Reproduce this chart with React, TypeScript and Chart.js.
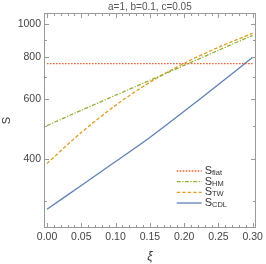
import React, { useEffect, useRef } from "react";
import { Chart, registerables } from "chart.js";
Chart.register(...registerables);

const xi = [0, 0.05, 0.1, 0.15, 0.2, 0.25, 0.3];
const sFlat = [765, 765, 765, 765, 765, 765, 765];
const sHM = [502, 557, 617, 683, 756, 838, 928];
const sTW = [388, 479, 576, 674, 767, 855, 941];
const sCDL = [284, 334, 393, 463, 553, 664, 799];
const yMajor = [400, 600, 800, 1000];
const yMinor = [300, 500, 700, 900];
const xMajor = [0, 0.05, 0.1, 0.15, 0.2, 0.25, 0.3];
const xMinor = [0.01, 0.02, 0.03, 0.04, 0.06, 0.07, 0.08, 0.09, 0.11, 0.12, 0.13, 0.14, 0.16, 0.17, 0.18, 0.19, 0.21, 0.22, 0.23, 0.24, 0.26, 0.27, 0.28, 0.29];
const titleText = "a=1, b=0.1, c=0.05";
const legendItems = [
  { main: "S", sub: "flat" },
  { main: "S", sub: "HM" },
  { main: "S", sub: "TW" },
  { main: "S", sub: "CDL" },
];

const RED = "#EB6235";
const GREEN = "#8FB032";
const ORANGE = "#E19C24";
const BLUE = "#5E81B5";
const FONT = "'Liberation Sans', Arial, sans-serif";

const styles = [
  { color: RED, dash: [1.6, 1.4] },
  { color: GREEN, dash: [4, 1.5, 1.2, 1.5] },
  { color: ORANGE, dash: [3.5, 2] },
  { color: BLUE, dash: [] as number[] },
];

const framePlugin = {
  id: "frame",
  afterDatasetsDraw(chart: any) {
    const { ctx, chartArea: a, scales } = chart;
    const x = scales.x, y = scales.y;
    ctx.save();
    ctx.strokeStyle = "#9a9a9a";
    ctx.lineWidth = 1;
    ctx.strokeRect(Math.round(a.left) + 0.5, Math.round(a.top) + 0.5, Math.round(a.right - a.left) - 1, Math.round(a.bottom - a.top) - 1);
    ctx.beginPath();
    const L = Math.round(a.left) + 0.5, R = Math.round(a.right) - 0.5;
    const T = Math.round(a.top) + 0.5, B = Math.round(a.bottom) - 0.5;
    const yt = (v: number, len: number) => {
      const p = Math.round(y.getPixelForValue(v)) + 0.5;
      ctx.moveTo(L, p); ctx.lineTo(L + len, p);
      ctx.moveTo(R, p); ctx.lineTo(R - len, p);
    };
    const xt = (v: number, len: number) => {
      const p = Math.round(x.getPixelForValue(v)) + 0.5;
      ctx.moveTo(p, B); ctx.lineTo(p, B - len);
      ctx.moveTo(p, T); ctx.lineTo(p, T + len);
    };
    yMajor.forEach((v) => yt(v, 4.5));
    yMinor.forEach((v) => yt(v, 2.5));
    xMajor.forEach((v) => xt(v, 4.5));
    xMinor.forEach((v) => xt(v, 2.5));
    ctx.stroke();

    // title
    ctx.fillStyle = "#555";
    ctx.font = `10px ${FONT}`;
    ctx.textAlign = "center";
    ctx.textBaseline = "middle";
    ctx.fillText(titleText, (a.left + a.right) / 2, 7);

    // legend
    const lx0 = a.right - 79, lx1 = a.right - 54;
    const ty0 = a.top + 158;
    legendItems.forEach((it, i) => {
      const yy = ty0 + i * 10.67;
      ctx.beginPath();
      ctx.strokeStyle = styles[i].color;
      ctx.lineWidth = 1.3;
      ctx.setLineDash(styles[i].dash);
      ctx.moveTo(lx0, yy);
      ctx.lineTo(lx1, yy);
      ctx.stroke();
      ctx.setLineDash([]);
      ctx.fillStyle = "#333";
      ctx.textAlign = "left";
      ctx.textBaseline = "middle";
      ctx.font = `11px ${FONT}`;
      ctx.fillText(it.main, lx1 + 3, yy);
      const w = ctx.measureText(it.main).width;
      ctx.font = `7.5px ${FONT}`;
      ctx.fillText(it.sub, lx1 + 3 + w, yy + 2);
    });
    ctx.restore();
  },
};

export default function App() {
  const ref = useRef<HTMLCanvasElement | null>(null);
  useEffect(() => {
    if (!ref.current) return;
    const mk = (data: number[], i: number) => ({
      data: data.map((v, k) => ({ x: xi[k], y: v })),
      borderColor: styles[i].color,
      borderDash: styles[i].dash,
      borderWidth: 1.3,
      pointRadius: 0,
      fill: false,
      tension: 0.3,
    });
    const chart = new Chart(ref.current, {
      type: "line",
      data: {
        datasets: [mk(sFlat, 0), mk(sHM, 1), mk(sTW, 2), mk(sCDL, 3)],
      },
      options: {
        animation: false,
        responsive: true,
        maintainAspectRatio: false,
        layout: { padding: { left: 0, right: 7, top: 13, bottom: 0 } },
        plugins: { legend: { display: false }, tooltip: { enabled: false }, title: { display: false } },
        scales: {
          x: {
            type: "linear",
            min: -0.0044,
            max: 0.3044,
            grid: { display: false, drawTicks: false },
            border: { display: false },
            afterBuildTicks: (s: any) => { s.ticks = xMajor.map((v) => ({ value: v })); },
            afterFit: (s: any) => { s.height = 36; },
            ticks: {
              padding: 3,
              autoSkip: false,
              maxRotation: 0,
              color: "#444",
              font: { family: FONT, size: 10.5 },
              callback: (v: any) => Number(v).toFixed(2),
            },
            title: {
              display: true,
              text: "ξ",
              color: "#333",
              font: { family: FONT, size: 12, style: "italic" },
              padding: { top: 0, bottom: 0 },
            },
          },
          y: {
            type: "logarithmic",
            min: 250,
            max: 1080,
            grid: { display: false, drawTicks: false },
            border: { display: false },
            afterBuildTicks: (s: any) => { s.ticks = yMajor.map((v) => ({ value: v })); },
            afterFit: (s: any) => { s.width = 44; },
            ticks: {
              padding: 3,
              autoSkip: false,
              color: "#444",
              font: { family: FONT, size: 10.5 },
              callback: (v: any) => String(v),
            },
            title: {
              display: true,
              text: "S",
              color: "#333",
              font: { family: FONT, size: 11 },
              padding: { top: 0, bottom: 0 },
            },
          },
        },
      },
      plugins: [framePlugin],
    });
    return () => chart.destroy();
  }, []);
  return (
    <div style={{ position: "fixed", left: 0, top: 0, width: 266, height: 264, background: "#fff" }}>
      <canvas ref={ref} />
    </div>
  );
}
